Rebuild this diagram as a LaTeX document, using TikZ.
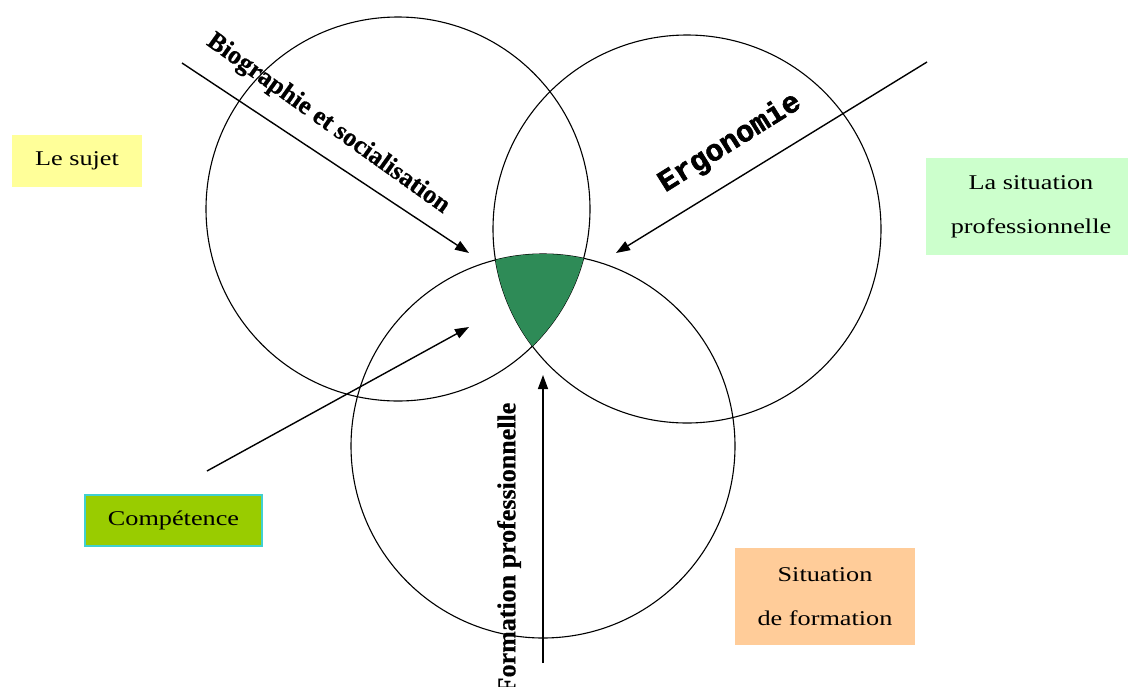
\documentclass[tikz,border=0pt]{standalone}
\usepackage{fontspec}
\setmainfont{Liberation Serif}
\newfontfamily\boxfont[FakeStretch=1.25]{Liberation Serif}
\newfontfamily\slabfont[FakeBold=2]{Liberation Mono}
\newfontfamily\captionfont[FakeBold=0.6]{Liberation Serif}
\usetikzlibrary{arrows.meta}

\definecolor{sujetfill}{HTML}{FFFF99}
\definecolor{profill}{HTML}{CCFFCC}
\definecolor{compfill}{HTML}{99CC00}
\definecolor{compedge}{HTML}{40D0D0}
\definecolor{formfill}{HTML}{FFCC99}
\definecolor{core}{HTML}{2E8B57}

\tikzset{
  ring/.style={draw=black, line width=1.1pt},
  feed/.style={line width=1.4pt, -{Triangle[length=14pt,width=10pt]}},
  label box/.style={inner sep=0pt, align=center,
    font=\boxfont\fontsize{21}{44}\selectfont},
  axis text/.style={inner sep=0pt, font=\captionfont\bfseries\fontsize{26}{28}\selectfont},
  ergo text/.style={inner sep=0pt, font=\slabfont\bfseries\fontsize{30}{32}\selectfont}
}

\begin{document}
\begin{tikzpicture}[x=1pt,y=-1pt]
\useasboundingbox (0,0) rectangle (1128,686);
\clip (0,0) rectangle (1128,686);
\fill[white] (0,0) rectangle (1128,686);

% circle centres
\coordinate (cs) at (398,209);
\coordinate (cp) at (687,229);
\coordinate (cf) at (543,446);

% the three circles
\draw[ring] (cs) circle[radius=192];
\draw[ring] (cp) circle[radius=194];
\draw[ring] (cf) circle[radius=192];

% common core of the three circles
\begin{scope}
  \clip (cs) circle[radius=192];
  \clip (cp) circle[radius=194];
  \fill[core] (cf) circle[radius=192];
\end{scope}

% label boxes
\node[label box, fill=sujetfill, minimum width=130, minimum height=52]
  (sujet) at (77,161) {Le sujet};
\node[label box, fill=profill, minimum width=210, minimum height=97]
  (pro) at (1031,206.5) {La situation\\professionnelle};
\node[label box, fill=compfill, draw=compedge, line width=1.5pt,
  minimum width=177, minimum height=51]
  (comp) at (173.5,520.5) {Compétence};
\node[label box, fill=formfill, minimum width=180, minimum height=97]
  (form) at (825,596.5) {Situation\\de formation};

% arrow end points
\coordinate (bioA) at (182,63);
\coordinate (bioB) at (469,253);
\coordinate (ergA) at (927,62);
\coordinate (ergB) at (616,253);
\coordinate (comA) at (207,471);
\coordinate (comB) at (469,327);
\coordinate (forA) at (543,663);
\coordinate (forB) at (543,375);

\draw[feed] (bioA) -- (bioB);
\draw[feed] (ergA) -- (ergB);
\draw[feed] (comA) -- (comB);
\draw[feed] (forA) -- (forB);

% arrow captions
\node[axis text, rotate=-35.5] (tbio) at (328,124) {Biographie et socialisation};
\node[ergo text, rotate=32] (tergo) at (730,143) {Ergonomie};
\node[axis text, rotate=90] (tform) at (509,548) {Formation professionnelle};
\end{tikzpicture}
\end{document}
